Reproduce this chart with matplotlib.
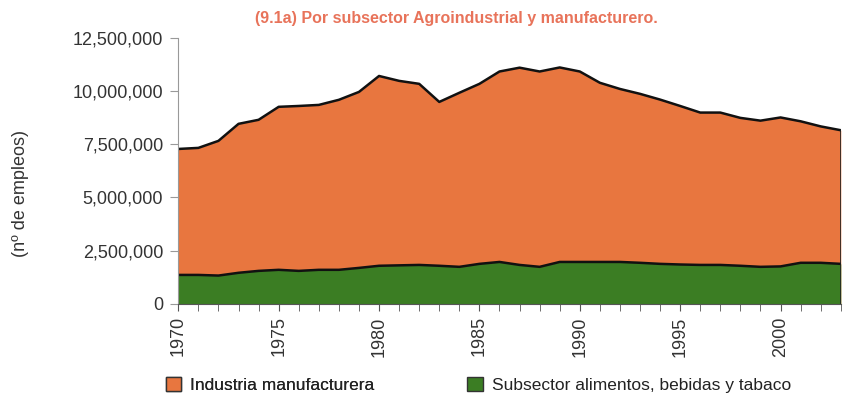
import matplotlib
matplotlib.use("Agg")
import matplotlib.pyplot as plt
from matplotlib.patches import Patch
from matplotlib.ticker import FuncFormatter, MultipleLocator

years = list(range(1970, 2004))
manufacturera = [7.28, 7.33, 7.66, 8.46, 8.65, 9.26, 9.30, 9.35, 9.59, 9.96,
                 10.71, 10.48, 10.34, 9.49, 9.92, 10.34, 10.92, 11.10, 10.92, 11.11,
                 10.92, 10.39, 10.10, 9.87, 9.60, 9.30, 8.99, 8.99, 8.74, 8.61,
                 8.76, 8.58, 8.34, 8.16]
alimentos = [1.36, 1.36, 1.33, 1.46, 1.55, 1.60, 1.55, 1.60, 1.60, 1.69,
             1.79, 1.81, 1.83, 1.79, 1.74, 1.88, 1.97, 1.83, 1.74, 1.97,
             1.97, 1.97, 1.97, 1.93, 1.88, 1.85, 1.83, 1.83, 1.79, 1.74,
             1.76, 1.93, 1.93, 1.88]
manufacturera = [v * 1e6 for v in manufacturera]
alimentos = [v * 1e6 for v in alimentos]

title = "(9.1a) Por subsector Agroindustrial y manufacturero."
labels = ["Industria manufacturera", "Subsector alimentos, bebidas y tabaco"]
orange = "#E8763F"
green = "#3B7D23"

plt.rcParams['font.family'] = ['Liberation Sans', 'DejaVu Sans']
fig = plt.figure(figsize=(8.45, 4.03), dpi=100)
ax = fig.add_axes([0.211, 0.246, 0.784, 0.660])

ax.fill_between(years, 0, manufacturera, color=orange, linewidth=0)
ax.plot(years, manufacturera, color="#111111", lw=1.8)
ax.fill_between(years, 0, alimentos, color=green, linewidth=0)
ax.plot(years, alimentos, color="#111111", lw=1.8)
ax.plot([2003, 2003], [0, manufacturera[-1]], color="#222222", lw=1.2)

ax.set_xlim(1970, 2003)
ax.set_ylim(0, 12500000)
ax.yaxis.set_major_locator(MultipleLocator(2500000))
ax.yaxis.set_major_formatter(FuncFormatter(lambda v, p: f"{int(v):,}"))
ax.xaxis.set_major_locator(MultipleLocator(5))
ax.xaxis.set_minor_locator(MultipleLocator(1))

for s in ["top", "right"]:
    ax.spines[s].set_visible(False)
ax.spines["left"].set_color("#999999")
ax.spines["bottom"].set_color("#555555")
ax.tick_params(axis="y", labelsize=13, colors="#333333", length=6, color="#999999", pad=5)
ax.tick_params(axis="x", which="both", direction="out", length=5, color="#555555")
ax.tick_params(axis="x", which="major", labelsize=13, labelcolor="#333333", labelrotation=90, pad=4)

fig.text(0.024, 0.52, "(nº de empleos)", rotation=90, ha="center", va="center",
         fontsize=13, color="#333333")

fig.text(0.54, 0.955, title, ha="center", va="center", fontsize=11.5, fontweight="bold",
         color="#E8735A", family=['Liberation Sans Narrow', 'Liberation Sans', 'DejaVu Sans'])

h1 = [Patch(facecolor=orange, edgecolor="#333333")]
h2 = [Patch(facecolor=green, edgecolor="#333333")]
kw = dict(frameon=False, fontsize=12.5, handlelength=0.9, handleheight=0.9, handletextpad=0.5,
          labelcolor="#222222", borderpad=0, borderaxespad=0)
leg1 = fig.legend(h1, labels[:1], loc="center left", bbox_to_anchor=(0.196, 0.045), **kw)
fig.add_artist(leg1)
fig.legend(h2, labels[1:], loc="center left", bbox_to_anchor=(0.553, 0.045), **kw)

fig.savefig("out.png", dpi=100)
